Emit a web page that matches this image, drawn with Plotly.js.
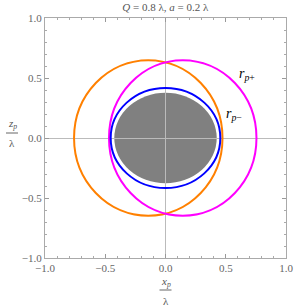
<!DOCTYPE html>
<html><head><meta charset="utf-8">
<script src="https://cdn.plot.ly/plotly-3.0.1.min.js"></script>
<style>html,body{margin:0;padding:0;background:#fff}#chart{width:294px;height:307px}</style>
</head><body><div id="chart"></div>
<script>
// curves: outer photon orbit (left/right lobes), inner orbit, shadow
const curveNames = ['rp_left', 'rp_plus', 'rp_minus', 'shadow'];
const centerX = [-0.143, 0.143, 0.0, 0.0];
const centerY = [0.0, 0.0, 0.0, 0.0];
const radiusX = [0.616, 0.612, 0.455, 0.425];
const radiusY = [0.648, 0.648, 0.417, 0.377];
const tickVals = [-1, -0.5, 0, 0.5, 1];
const tickText = ['\u22121.0', '\u22120.5', '0.0', '0.5', '1.0'];
const labelText = ['<i>r</i><sub><i>p</i>+</sub>', '<i>r</i><sub><i>p</i>\u2212</sub>'];
const labelX = [0.68, 0.565];
const labelY = [0.53, 0.195];

const style = {
  rp_left: {color: '#FF8000', fill: null},
  rp_plus: {color: '#FF00FF', fill: null},
  rp_minus: {color: '#0000FF', fill: null},
  shadow: {color: '#808080', fill: '#808080'}
};
const serif = '"Liberation Serif", "Times New Roman", serif';

const shapes = [];
curveNames.forEach((n, i) => {
  const st = style[n];
  const s = {
    type: 'circle', xref: 'x', yref: 'y',
    x0: centerX[i] - radiusX[i], x1: centerX[i] + radiusX[i],
    y0: centerY[i] - radiusY[i], y1: centerY[i] + radiusY[i],
  };
  if (st.fill) {
    s.fillcolor = st.fill; s.line = {width: 0}; s.layer = 'below';
  } else {
    s.line = {color: st.color, width: 2}; s.layer = 'above';
  }
  shapes.push(s);
});
// fraction bars of axis labels
shapes.push({type: 'line', xref: 'x', yref: 'paper', xsizemode: 'pixel', xanchor: 0,
  ysizemode: 'pixel', yanchor: 0, x0: -6, x1: 6, y0: -32, y1: -32, line: {color: '#666', width: 1}});
shapes.push({type: 'line', xref: 'paper', yref: 'y', xsizemode: 'pixel', xanchor: 0,
  ysizemode: 'pixel', yanchor: 0, x0: -39, x1: -27, y0: 5, y1: 5, line: {color: '#666', width: 1}});

const annotations = labelText.map((t, i) => ({
  x: labelX[i], y: labelY[i], xref: 'x', yref: 'y', text: t, showarrow: false,
  xanchor: 'center', yanchor: 'middle',
  font: {family: serif, size: 14, color: '#000'}
}));
const axLab = (x, y, xref, yref, xs, ys, t) => ({x: x, y: y, xref: xref, yref: yref, xshift: xs, yshift: ys,
  text: t, showarrow: false, xanchor: 'center', yanchor: 'middle',
  font: {family: serif, size: 11, color: '#555'}});
annotations.push(axLab(0, 0, 'x', 'paper', 0, -24, '<i>x</i><sub><i>p</i></sub>'));
annotations.push(axLab(0, 0, 'x', 'paper', 0, -43, '\u03bb'));
annotations.push(axLab(0, 0, 'paper', 'y', -33, 14, '<i>z</i><sub><i>p</i></sub>'));
annotations.push(axLab(0, 0, 'paper', 'y', -33, -5, '\u03bb'));

const axisCommon = {
  range: [-1, 1], tickvals: tickVals, ticktext: tickText, ticks: 'inside', ticklen: 4,
  tickcolor: '#999', showline: true, linecolor: '#aaa', linewidth: 1, mirror: 'ticks',
  showgrid: false, zeroline: true, zerolinecolor: '#bbb', zerolinewidth: 1,
  tickfont: {family: serif, size: 11, color: '#666'},
  minor: {dtick: 0.1, ticks: 'inside', ticklen: 2, tickcolor: '#aaa', showgrid: false},
  fixedrange: true
};

const layout = {
  width: 294, height: 307,
  margin: {l: 45, r: 8, t: 18, b: 49},
  paper_bgcolor: '#fff', plot_bgcolor: '#fff',
  title: {text: '<i>Q</i> = 0.8 \u03bb, <i>a</i> = 0.2 \u03bb', x: 0.5625, xanchor: 'center', y: 0.977, yanchor: 'middle',
    font: {family: serif, size: 11, color: '#555'}},
  xaxis: Object.assign({}, axisCommon),
  yaxis: Object.assign({}, axisCommon),
  showlegend: false,
  shapes: shapes,
  annotations: annotations
};

Plotly.newPlot('chart', [{x: [], y: [], type: 'scatter', mode: 'lines', hoverinfo: 'skip'}], layout, {staticPlot: true});
</script>
</body></html>
